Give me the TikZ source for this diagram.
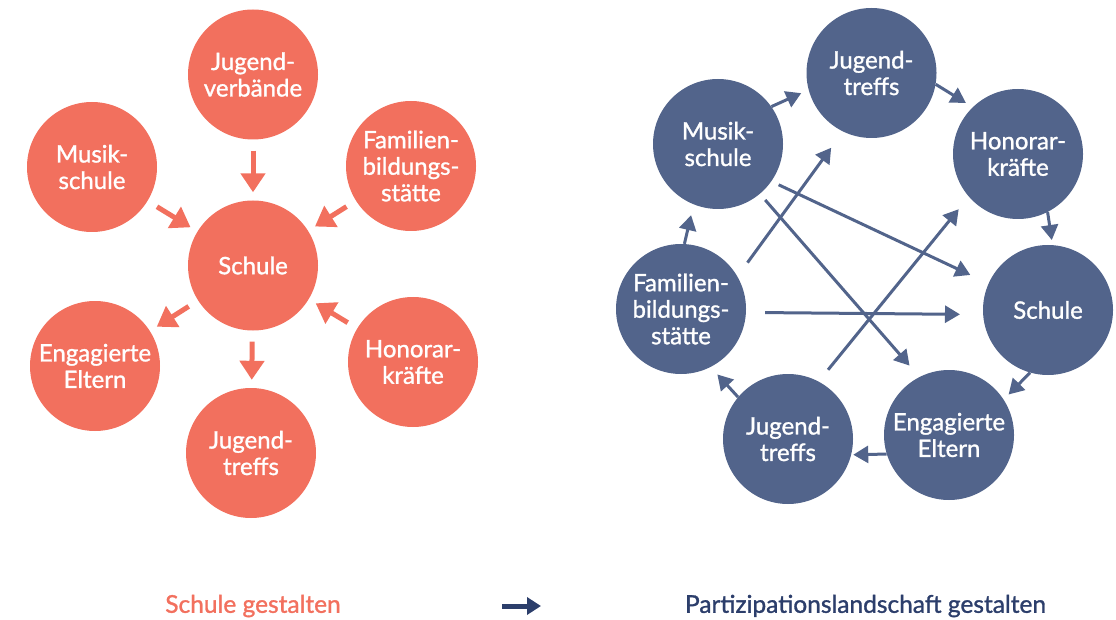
\documentclass[tikz,border=0pt]{standalone}
\usepackage{fontspec}
\setmainfont{Lato}[FakeBold=1.2]
\usepackage{xcolor}
\usepackage{tikz}
\usetikzlibrary{arrows.meta, positioning, calc}

\definecolor{salmon}{HTML}{F2705E}
\definecolor{slate}{HTML}{52648B}
\definecolor{navy}{HTML}{2C3E6B}

\tikzset{
  circ/.style={circle, text=white, minimum size=130pt, inner sep=0pt, align=center,
    font=\fontsize{24}{26.5}\selectfont},
  redcirc/.style={circ, fill=salmon},
  bluecirc/.style={circ, fill=slate},
  redarrow/.style={line width=5pt, color=salmon, -{Triangle[width=24pt,length=19pt]},
    shorten <=11pt, shorten >=8pt},
  bluearrow/.style={line width=3pt, color=slate, -{Triangle[width=17pt,length=15pt]}},
  caption/.style={font=\fontsize{24.5}{27}\selectfont, inner sep=0pt}
}

\begin{document}
\begin{tikzpicture}[x=1pt, y=-1pt]
  \useasboundingbox (0, 0) rectangle (1116, 620);

  % school at the centre
  \node [redcirc] (lschule) at (253, 265.5) {Schule};
  \node [redcirc] (lverb) at (253, 74.5) {Jugend-\\verbände};
  \node [redcirc] (lmusik) at (92, 167) {Musik-\\schule};
  \node [redcirc] (lfam) at (411, 166) {Familien-\\bildungs-\\stätte};
  \node [redcirc] (leltern) at (95, 366) {Engagierte\\Eltern};
  \node [redcirc] (lhon) at (413, 362) {Honorar-\\kräfte};
  \node [redcirc] (ltreff) at (251, 453) {Jugend-\\treffs};

  \draw [redarrow] (lverb) -- (lschule);
  \draw [redarrow] (lmusik) -- (lschule);
  \draw [redarrow] (lfam) -- (lschule);
  \draw [redarrow] (lhon) -- (lschule);
  \draw [redarrow] (lschule) -- (leltern);
  \draw [redarrow] (lschule) -- (ltreff);

  % participation landscape
  \node [bluecirc] (rtreff) at (871.5, 73) {Jugend-\\treffs};
  \node [bluecirc] (rmusik) at (718, 144) {Musik-\\schule};
  \node [bluecirc] (rhon) at (1018, 154) {Honorar-\\kräfte};
  \node [bluecirc] (rfam) at (681, 309) {Familien-\\bildungs-\\stätte};
  \node [bluecirc] (rschule) at (1048, 310) {Schule};
  \node [bluecirc] (reltern) at (949, 435) {Engagierte\\Eltern};
  \node [bluecirc] (rtreffb) at (788, 439) {Jugend-\\treffs};

  % ring
  \draw [bluearrow, shorten >=8pt] (rmusik.35) -- (rtreff.195);
  \draw [bluearrow, shorten >=8pt] (rtreff.-10) -- (rhon.134);
  \draw [bluearrow, shorten >=5pt] (rhon.-63) -- (rschule.86);
  \draw [bluearrow, shorten >=7pt] (rschule.254) -- (reltern.33);
  \draw [bluearrow, shorten >=2pt] (reltern.197) -- (rtreffb.-14);
  \draw [bluearrow, shorten >=10pt] (rtreffb.140) -- (rfam.-63);
  \draw [bluearrow, shorten >=11pt] (rfam.87) -- (rmusik.248);

  % crossing
  \draw [bluearrow, shorten <=17pt, shorten >=20pt] (rfam.30) -- (rtreff.244);
  \draw [bluearrow, shorten <=8pt, shorten >=20pt] (rmusik.-35) -- (rschule.156);
  \draw [bluearrow, shorten <=8pt, shorten >=15pt] (rmusik.-50) -- (reltern.117);
  \draw [bluearrow, shorten <=19pt, shorten >=23pt] (rfam.-3) -- (rschule.184);
  \draw [bluearrow, shorten <=15pt, shorten >=16pt] (rtreffb.62) -- (rhon.221);

  % captions
  \node [caption, text=salmon] (lcap) at (253, 606) {Schule gestalten};
  \node [caption, text=navy] (rcap) at (865.5, 606) {Partizipationslandschaft gestalten};
  \coordinate (arrfrom) at (502, 606);
  \coordinate (arrto) at (541, 606);
  \draw [line width=5pt, color=navy, -{Triangle[width=17pt,length=14pt]}] (arrfrom) -- (arrto);
\end{tikzpicture}
\end{document}
